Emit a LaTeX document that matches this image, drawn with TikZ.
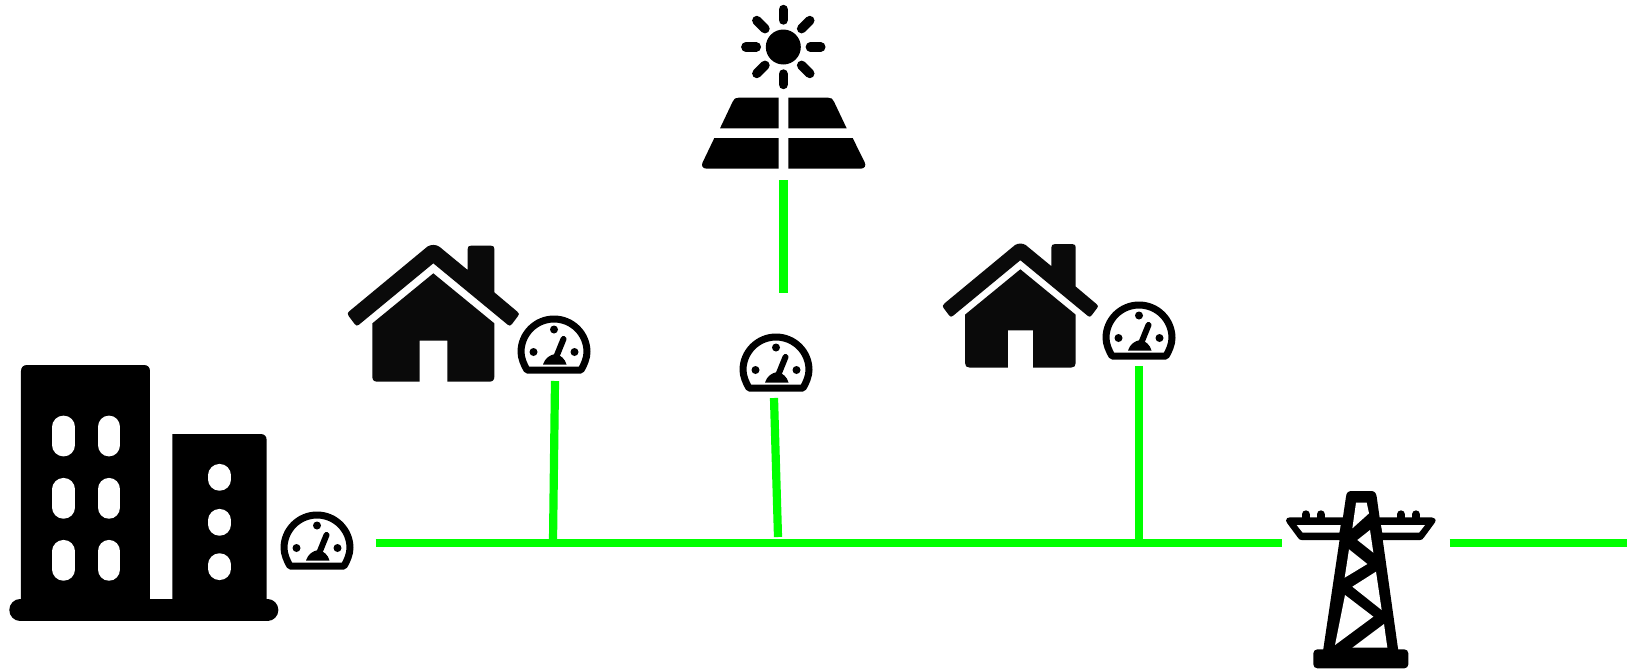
\documentclass[tikz,border=0pt]{standalone}
\tikzset{
  wire/.style={draw=wiregreen,line width=4.1pt},
  pane/.style={draw=white,line width=11.4pt,line cap=round},
  house/.pic={
    \fill[houseink] (97,280)--(280,130)--(463,280)--(463,440) .. controls (463,450) and (458,455) .. (448,455)--(322,455)--(322,332)--(239,332)--(239,455)--(112,455) .. controls (102,455) and (97,450) .. (97,440)--cycle;
    \fill[houseink] (30,242)--(262,50) .. controls (272,43) and (288,43) .. (298,50)--(383,120)--(383,57) .. controls (383,50) and (386,47) .. (393,47)--(453,47) .. controls (460,47) and (463,50) .. (463,57)--(463,187)--(532,245) .. controls (538,250) and (538,254) .. (534,258)--(516,282) .. controls (512,288) and (508,288) .. (503,284)--(280,100)--(57,284) .. controls (52,288) and (48,288) .. (44,282)--(26,258) .. controls (22,254) and (22,248) .. (30,242)--cycle;
  },
  meter/.pic={
    \draw[black,line width=3.5pt,line join=round,fill=white]
      (-33,0) .. controls (-33,-18.2) and (-18.2,-33) .. (0,-33)
      .. controls (18.2,-33) and (33,-18.2) .. (33,0)
      .. controls (33,6) and (30,13) .. (27,18) -- (-27,18)
      .. controls (-30,13) and (-33,6) .. (-33,0) -- cycle;
    \fill (0,-22.5) circle[radius=4];
    \fill (-20.5,0) circle[radius=4];
    \fill (20.5,0) circle[radius=4];
    \draw[black,line width=3pt,line cap=round] (9.5,-13) -- (3,3);
    \fill (-11,12.5) .. controls (-9,6) and (-4,3) .. (1,2) .. controls (7,3) and (11,7) .. (12.5,12.5) -- cycle;
  }
}
\definecolor{wiregreen}{RGB}{0,255,0}
\definecolor{houseink}{RGB}{10,10,10}
\begin{document}
\begin{tikzpicture}[x=0.5pt,y=-0.5pt]
\useasboundingbox[fill=white] (0,0) rectangle (1627,670);

% building
\begin{scope}[shift={(0,350)},scale=1/3]
  \fill (63,790)--(63,63) .. controls (63,52) and (70,45) .. (81,45)--(432,45) .. controls (443,45) and (450,52) .. (450,63)--(450,790)--cycle;
  \fill (517,790)--(517,252)--(782,252) .. controls (793,252) and (800,259) .. (800,270)--(800,790)--cycle;
  \draw[black,line width=10.7pt,line cap=round] (60,780)--(803,780);
  \foreach \wx in {191,327}
    \foreach \wy in {197,384,570}
      \draw[pane] (\wx,\wy+34) -- (\wx,\wy+88);
  \foreach \wy in {342,477,610}
    \draw[pane] (659,\wy+34) -- (659,\wy+46);
\end{scope}

% sun
\begin{scope}[shift={(783.3,47)}]
  \fill (0,0) circle[radius=17.5];
  \foreach \ra/\rb in {0/1,1/0,0/-1,-1/0}
    \draw[black,line width=4.7pt,line cap=round] (27*\ra,27*\rb) -- (37.5*\ra,37.5*\rb);
  \foreach \ra/\rb in {1/1,1/-1,-1/1,-1/-1}
    \draw[black,line width=4.7pt,line cap=round] (18.3*\ra,18.3*\rb) -- (26.5*\ra,26.5*\rb);
\end{scope}

% solar panel
\begin{scope}[shift={(690,0)},scale=1/3]
  \fill (90,385)--(128,305) .. controls (132,296) and (136,293) .. (146,293)--(266,293)--(266,385)--cycle;
  \fill (470,385)--(432,305) .. controls (428,296) and (424,293) .. (414,293)--(295,293)--(295,385)--cycle;
  \fill (73,414)--(266,414)--(266,506)--(50,506) .. controls (38,506) and (33,497) .. (38,487)--cycle;
  \fill (488,414)--(295,414)--(295,506)--(512,506) .. controls (524,506) and (529,497) .. (524,487)--cycle;
\end{scope}

% houses
\pic at (340,230) [scale=1/3] {house};
\pic at (935.7,230) [scale=0.3023] {house};

% meters
\pic (m1) at (317,548) {meter};
\pic (m2) at (554,352) {meter};
\pic (m3) at (776,370) {meter};
\pic (m4) at (1139,338) {meter};

% pylon
\begin{scope}[shift={(1270,480)},scale=1/3]
  \foreach \bx in {107,152,393,438}
    \draw[black,line width=4pt,line cap=round] (\bx,103)--(\bx,120);
  \fill (48,122) .. controls (48,115) and (53,112) .. (60,112)--(485,112) .. controls (493,112) and (500,118) .. (495,127)--(462,172) .. controls (458,178) and (455,180) .. (450,180)--(95,180) .. controls (90,180) and (87,178) .. (83,172)--(52,130) .. controls (49,127) and (48,125) .. (48,122)--cycle;
  \fill (228,50) .. controls (229,38) and (235,33) .. (245,33)--(303,33) .. controls (313,33) and (318,38) .. (320,50)--(386,520)--(158,520)--cycle;
  \fill[white] (80,135)--(212,135)--(208,158)--(98,158)--cycle;
  \fill[white] (333,135)--(465,135)--(447,158)--(337,158)--cycle;
  \fill[white] (258,68)--(290,68)--(297,100)--(247,145)--cycle;
  \fill[white] (262,180)--(300,150)--(310,218)--cycle;
  \fill[white] (237,208)--(292,252)--(224,293)--cycle;
  \fill[white] (247,320)--(318,275)--(335,390)--cycle;
  \fill[white] (225,345)--(310,410)--(195,495)--cycle;
  \fill[white] (342,432)--(352,503)--(247,503)--cycle;
  \fill[rounded corners=2pt] (130,508) rectangle (415,565);
\end{scope}

% connectors
\coordinate (busL) at (375.5,543);
\coordinate (busR) at (1281.5,543);
\coordinate (gridL) at (1449.5,543);
\coordinate (gridR) at (1627,543);
\coordinate (panelOut) at (783.5,180);
\coordinate (panelIn) at (783.5,292.5);
\coordinate (tap2a) at (555,381);
\coordinate (tap2b) at (553,541);
\coordinate (tap3a) at (774,398);
\coordinate (tap3b) at (778,537);
\coordinate (tap4a) at (1139,366);
\coordinate (tap4b) at (1139,541);
\draw[wire] (busL) -- (busR);
\draw[wire] (gridL) -- (gridR);
\draw[wire] (panelOut) -- (panelIn);
\draw[wire] (tap2a) -- (tap2b);
\draw[wire] (tap3a) -- (tap3b);
\draw[wire] (tap4a) -- (tap4b);
\end{tikzpicture}
\end{document}
